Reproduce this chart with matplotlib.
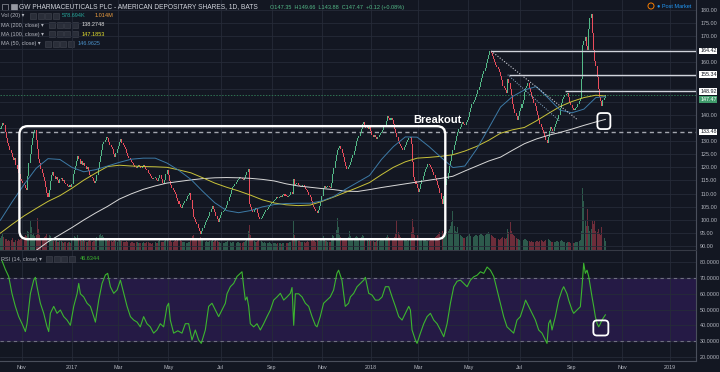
import numpy as np
import pandas as pd
import matplotlib
matplotlib.use('Agg')
import matplotlib.pyplot as plt
from matplotlib.patches import FancyBboxPatch, Rectangle, Ellipse
from matplotlib.transforms import blended_transform_factory

plt.rcParams['font.family'] = ['Liberation Sans', 'DejaVu Sans']

# ---- data ----
holidays = ['2016-11-24', '2016-12-26', '2017-01-02', '2017-01-16', '2017-02-20',
            '2017-04-14', '2017-05-29', '2017-07-04', '2017-09-04', '2017-11-23',
            '2017-12-25', '2018-01-01', '2018-01-15', '2018-02-19', '2018-03-30',
            '2018-05-28', '2018-07-04', '2018-09-03', '2018-11-22', '2018-12-05',
            '2018-12-25', '2019-01-01']

close = [
    134.5, 135.8, 137.0, 136.2, 133.5, 131.0, 129.4, 128.2, 126.5, 125.3,
    124.0, 122.8, 123.5, 121.0, 119.2, 118.0, 117.3, 115.6, 114.8, 113.9,
    113.2, 112.0, 111.2, 116.5, 121.8, 125.0, 128.6, 131.2, 133.0, 134.4,
    130.5, 126.8, 123.2, 121.6, 119.5, 118.0, 116.2, 114.8, 112.4, 110.2,
    108.8, 111.5, 114.6, 117.2, 118.4, 116.8, 115.5, 116.3, 115.0, 114.2,
    115.4, 116.0, 114.8, 115.2, 114.0, 113.6, 112.8, 112.4, 113.2, 112.6,
    113.8, 117.6, 119.0, 120.5, 122.6, 124.2, 123.0, 121.4, 122.3, 121.0,
    121.8, 120.6, 119.4, 120.2, 118.5, 117.2, 116.4, 115.8, 114.6, 114.0,
    114.8, 117.0, 119.6, 122.0, 124.3, 126.5, 128.8, 129.6, 130.4, 131.6,
    131.0, 129.8, 128.4, 127.6, 126.8, 125.2, 124.0, 125.6, 127.0, 128.3,
    129.6, 130.8, 129.4, 128.6, 127.8, 126.9, 125.5, 124.2, 123.6, 122.8,
    122.1, 121.5, 120.8, 120.0, 119.6, 120.4, 121.0, 120.6, 119.8, 120.4,
    121.0, 120.2, 119.5, 118.8, 118.0, 117.4, 116.8, 116.1, 115.4, 115.8,
    116.0, 115.2, 114.8, 115.9, 117.0, 115.6, 114.2, 113.5, 115.2, 117.4,
    119.0, 117.0, 114.6, 113.4, 112.0, 111.2, 110.4, 109.8, 108.4, 107.0,
    106.0, 105.0, 104.6, 105.5, 106.4, 107.2, 108.0, 109.1, 109.6, 110.2,
    107.5, 104.2, 101.0, 100.2, 99.0, 98.2, 97.0, 95.6, 94.6, 95.8,
    96.8, 98.0, 99.2, 100.0, 100.8, 101.6, 103.0, 104.2, 105.1, 104.0,
    103.0, 101.5, 100.2, 99.0, 100.5, 101.8, 102.9, 103.4, 103.8, 104.4,
    105.6, 107.2, 108.5, 110.0, 111.2, 112.4, 113.0, 113.8, 114.5, 115.1,
    115.6, 116.2, 115.8, 115.4, 115.0, 116.1, 117.0, 118.2, 119.5, 106.0,
    104.8, 103.6, 103.0, 103.8, 104.5, 104.0, 102.6, 101.2, 100.2, 100.8,
    101.4, 102.2, 103.0, 103.6, 104.2, 104.8, 105.4, 105.9, 106.5, 107.0,
    107.4, 108.0, 108.5, 108.2, 108.8, 109.1, 108.7, 109.4, 109.8, 109.2,
    108.9, 108.5, 109.0, 109.6, 110.4, 109.8, 115.5, 113.2, 113.8, 114.0,
    113.4, 112.8, 112.4, 113.0, 113.2, 112.6, 111.8, 111.2, 110.4, 109.4,
    108.6, 107.0, 105.6, 104.8, 104.0, 103.2, 102.5, 103.6, 105.2, 106.8,
    109.0, 112.0, 112.8, 112.2, 112.6, 112.9, 112.4, 112.0, 114.2, 117.4,
    119.8, 122.4, 124.6, 126.5, 127.4, 128.0, 127.0, 125.4, 124.0, 122.2,
    120.6, 119.2, 120.0, 121.0, 122.2, 123.6, 124.8, 126.4, 128.0, 130.0,
    131.2, 132.0, 133.2, 134.8, 136.4, 137.2, 136.0, 135.0, 135.4, 134.6,
    135.2, 133.8, 132.4, 131.5, 132.2, 131.6, 130.8, 131.5, 132.4, 133.2,
    133.6, 134.2, 135.4, 136.2, 137.6, 139.6, 139.0, 138.2, 138.8, 138.0,
    136.4, 134.6, 133.0, 131.6, 130.2, 129.0, 128.2, 127.4, 126.6, 127.8,
    128.6, 129.8, 130.6, 131.0, 131.6, 129.0, 122.0, 116.4, 114.8, 113.6,
    112.2, 110.4, 111.8, 113.6, 115.0, 116.8, 118.4, 119.4, 120.2, 121.4,
    120.8, 120.0, 119.2, 118.4, 117.2, 116.0, 114.6, 113.2, 112.0, 110.2,
    108.0, 106.2, 109.0, 111.4, 113.2, 115.6, 118.0, 120.4, 122.6, 124.8,
    126.6, 128.4, 130.0, 131.8, 133.4, 134.6, 135.4, 136.6, 137.2, 136.4,
    136.0, 137.2, 138.2, 139.2, 141.0, 142.6, 144.2, 145.0, 145.8, 146.8,
    148.0, 149.4, 150.8, 152.4, 154.0, 155.4, 156.8, 158.0, 159.6, 161.4,
    162.8, 164.2, 163.6, 162.4, 161.4, 160.2, 159.0, 158.2, 157.4, 156.4,
    155.0, 153.2, 151.0, 150.2, 149.4, 148.4, 153.8, 152.0, 150.0, 147.6,
    144.2, 142.2, 140.6, 139.4, 138.2, 139.6, 141.4, 142.8, 144.2, 145.6,
    148.6, 150.4, 151.2, 152.0, 150.4, 148.8, 147.2, 146.0, 144.6, 143.2,
    141.6, 139.8, 138.0, 136.6, 135.2, 134.2, 133.2, 132.0, 130.6, 129.2,
    131.6, 134.0, 135.4, 134.8, 134.0, 135.2, 136.4, 137.6, 138.4, 139.8,
    142.6, 144.4, 146.2, 147.0, 147.6, 148.0, 148.4, 146.8, 145.0, 143.8,
    142.6, 141.8, 142.0, 142.6, 143.0, 144.0, 145.2, 146.6, 153.8, 166.8,
    168.2, 169.8, 166.4, 164.8, 172.6, 176.8, 178.4, 171.2, 164.6, 160.4,
    158.6, 154.6, 149.8, 147.0, 145.4, 143.2, 145.8, 146.4, 147.47,
]

# volume, in units of 10K shares
volume = [
    72, 85, 96, 78, 66, 70, 58, 64, 55, 60, 74, 52, 49, 63, 58, 66, 61, 70, 75, 68,
    82, 95, 88, 120, 110, 180, 140, 95, 105, 88, 92, 200, 130, 90, 76, 68, 72, 80, 85, 98,
    130, 92, 84, 70, 62, 58, 55, 60, 52, 49, 57, 54, 48, 45, 52, 50, 44, 47, 51, 46,
    66, 90, 84, 78, 72, 95, 70, 62, 58, 54, 60, 56, 52, 48, 58, 62, 55, 50, 57, 53,
    60, 78, 85, 92, 100, 88, 95, 80, 72, 70, 64, 58, 62, 55, 50, 56, 62, 58, 52, 60,
    66, 58, 54, 50, 47, 52, 55, 49, 46, 44, 48, 52, 45, 42, 47, 50, 44, 41, 46, 43,
    48, 45, 42, 50, 47, 44, 46, 40, 43, 48, 52, 45, 42, 55, 60, 50, 47, 52, 58, 62,
    66, 58, 55, 60, 52, 50, 56, 62, 58, 66, 72, 64, 55, 50, 48, 52, 46, 44, 49, 47,
    70, 85, 90, 76, 68, 62, 70, 74, 80, 68, 60, 55, 52, 58, 50, 48, 54, 56, 60, 52,
    55, 60, 58, 50, 48, 46, 52, 44, 42, 47, 52, 58, 55, 50, 46, 48, 52, 45, 43, 48,
    50, 46, 44, 42, 47, 52, 58, 66, 120, 155, 95, 70, 62, 55, 50, 52, 58, 60, 66, 55,
    50, 46, 48, 44, 42, 45, 48, 43, 40, 44, 46, 42, 39, 43, 45, 41, 38, 42, 44, 40,
    43, 46, 42, 48, 52, 60, 180, 90, 72, 66, 58, 54, 50, 47, 52, 49, 46, 50, 53, 48,
    55, 60, 58, 62, 56, 52, 60, 58, 54, 62, 70, 85, 66, 58, 54, 50, 52, 48, 70, 95,
    88, 110, 125, 200, 140, 95, 80, 72, 68, 62, 66, 72, 78, 120, 85, 70, 66, 72, 80, 88,
    82, 75, 70, 78, 90, 85, 72, 66, 60, 58, 62, 56, 54, 58, 52, 50, 55, 60, 58, 62,
    60, 66, 72, 70, 80, 92, 78, 66, 60, 62, 70, 78, 96, 185, 110, 90, 82, 75, 72, 66,
    64, 60, 58, 62, 66, 110, 190, 140, 95, 82, 90, 85, 72, 68, 64, 60, 66, 62, 58, 55,
    58, 62, 66, 70, 75, 80, 88, 92, 96, 110, 130, 115, 90, 85, 96, 110, 120, 130, 150, 175,
    240, 150, 120, 110, 140, 105, 95, 88, 82, 76, 72, 80, 85, 90, 96, 88, 82, 78, 84, 90,
    95, 88, 92, 100, 96, 90, 86, 92, 98, 105, 110, 100, 92, 85, 80, 76, 72, 70, 66, 64,
    70, 76, 80, 72, 68, 75, 130, 110, 170, 120, 100, 90, 84, 76, 70, 66, 62, 58, 60, 64,
    70, 66, 60, 58, 55, 52, 56, 50, 48, 52, 58, 55, 50, 54, 60, 56, 52, 58, 62, 66,
    70, 60, 55, 52, 50, 48, 52, 56, 54, 50, 58, 62, 55, 50, 48, 46, 50, 52, 48, 45,
    48, 46, 44, 47, 50, 52, 55, 60, 120, 385, 300, 180, 150, 250, 150, 120, 130, 180, 160, 180,
    120, 110, 130, 100, 90, 140, 85, 75, 58,
]

# moving averages read every 10 bars
ma_idx = [0, 10, 20, 30, 40, 50, 60, 70, 80, 90, 100, 110, 120, 130, 140, 150, 160, 170,
          180, 190, 200, 210, 220, 230, 240, 250, 260, 270, 280, 290, 300, 310, 320, 330,
          340, 350, 360, 370, 380, 390, 400, 410, 420, 430, 440, 450, 460, 470, 480, 490,
          500, 508]
ma200 = [79.0, 82.0, 85.2, 88.3, 91.6, 94.3, 97.0, 99.9, 102.6, 105.1, 107.9, 109.9, 111.6,
         112.9, 114.0, 114.6, 115.2, 115.7, 116.0, 116.1, 116.0, 115.8, 115.4, 114.8, 113.7,
         112.9, 112.4, 111.9, 111.5, 110.9, 110.8, 111.5, 112.3, 113.0, 113.7, 114.4, 115.1,
         115.8, 116.6, 118.6, 120.5, 122.4, 123.9, 126.5, 129.0, 130.8, 132.2, 133.3, 134.6,
         136.0, 137.3, 138.27]
ma100 = [94.9, 98.3, 101.5, 104.3, 107.0, 109.2, 112.0, 115.1, 117.8, 120.3, 120.8, 120.5,
         120.3, 120.2, 120.0, 119.0, 117.9, 116.0, 114.0, 112.4, 111.0, 109.4, 107.6, 106.4,
         105.7, 105.4, 105.6, 107.0, 108.7, 110.5, 112.3, 114.2, 117.2, 120.0, 122.1, 123.5,
         123.8, 124.2, 124.8, 126.2, 128.0, 130.3, 133.0, 134.3, 135.2, 137.7, 140.5, 143.2,
         145.1, 146.6, 147.5, 147.19]
ma50 = [99.8, 106.9, 113.5, 119.6, 123.3, 123.0, 120.0, 118.3, 119.1, 120.5, 121.9, 123.1,
        123.5, 123.5, 121.6, 118.8, 115.4, 110.8, 106.5, 103.5, 102.7, 103.5, 104.9, 105.8,
        106.2, 106.3, 106.3, 107.2, 108.9, 111.7, 114.3, 116.9, 123.0, 127.9, 131.6, 131.5,
        127.9, 123.8, 119.9, 120.5, 127.0, 134.9, 143.0, 147.0, 149.5, 150.8, 146.4, 141.8,
        140.8, 142.2, 146.6, 146.96]

# RSI (14)
rsi_idx = [1.4, 4.2, 7.0, 9.8, 12.6, 15.4, 18.2, 21.0, 22.4, 25.2, 28.0, 29.4, 30.8, 33.6,
           36.4, 39.2, 40.6, 42.0, 44.8, 47.6, 50.4, 53.2, 56.0, 58.8, 61.6, 64.4, 65.8,
           67.2, 70.0, 72.8, 75.6, 78.4, 79.8, 82.6, 85.4, 88.2, 90.1, 92.4, 95.2, 98.0,
           100.8, 103.6, 106.4, 109.2, 112.0, 114.8, 117.5, 120.3, 123.1, 125.9, 128.7,
           131.5, 134.3, 137.1, 139.9, 141.3, 142.7, 145.5, 149.0, 152.5, 155.3, 158.1,
           160.9, 163.7, 166.5, 168.7, 172.1, 174.9, 177.7, 180.5, 183.3, 186.1, 188.9,
           190.3, 193.1, 195.9, 198.7, 201.5, 202.9, 204.3, 205.7, 207.1, 208.5, 209.9,
           212.7, 215.5, 218.3, 221.1, 223.9, 226.7, 229.5, 232.3, 235.1, 237.9, 240.7,
           243.5, 244.9, 246.3, 247.7, 250.5, 253.3, 256.1, 258.9, 261.7, 264.5, 265.9,
           268.6, 271.4, 274.2, 277.0, 279.8, 282.6, 284.0, 286.8, 289.6, 292.4, 293.9,
           296.7, 299.5, 302.3, 305.1, 306.5, 309.3, 312.1, 314.9, 317.7, 320.5, 323.3,
           326.1, 328.9, 331.7, 334.5, 337.3, 340.1, 342.9, 344.3, 345.7, 348.5, 349.9,
           352.7, 355.5, 358.3, 361.1, 363.9, 366.7, 369.5, 372.3, 375.1, 377.9, 380.7,
           383.5, 386.3, 389.1, 391.9, 394.7, 397.5, 400.3, 403.1, 405.9, 408.7, 411.5,
           414.3, 417.1, 419.9, 422.6, 425.4, 428.2, 431.0, 433.8, 436.6, 439.4, 441.0,
           443.6, 446.4, 449.2, 452.0, 454.8, 457.6, 459.0, 460.4, 461.8, 463.2, 466.0,
           468.8, 471.6, 473.0, 475.8, 477.2, 480.0, 481.4, 484.2, 487.0, 488.4, 489.8,
           491.2, 492.6, 494.0, 495.4, 496.8, 498.2, 499.6, 501.0, 502.4, 503.8, 505.2,
           508.0]
rsi_val = [81, 75.5, 71, 60, 52, 45.5, 41, 36, 41, 60, 68.7, 70.5, 64.5, 54,
           47.6, 39, 36, 47.6, 52, 47.6, 49.7, 45.5, 43.3, 40, 52, 60, 66.6,
           60, 58, 54, 52, 45.5, 42, 56, 66.6, 72, 73, 64.5, 60.3, 62.4,
           68.7, 60.3, 52, 45.5, 43.3, 42, 39, 45.5, 41, 39, 35,
           37, 41, 39, 52, 54, 43.3, 35, 36.5, 35, 41, 41,
           30.6, 37, 30.6, 28.5, 37, 52, 54, 49.7, 45.5, 49.7, 54,
           60, 64.5, 66.6, 71, 73, 74, 64.5, 56, 58, 52, 41,
           39, 41, 37, 41, 45.5, 49.7, 56, 58, 60.3, 56, 58,
           60.3, 64, 40, 60, 60, 58, 54, 52, 45.5, 40, 39,
           45.5, 54, 56, 58, 62.4, 73, 75, 68.7, 52, 54, 58,
           60.3, 64.5, 66.6, 68.7, 70.5, 60.3, 59.2, 56, 56, 58, 64.5,
           64.5, 58, 52, 45.5, 43.3, 47.6, 52, 49.7, 37, 30.6, 28.5,
           35, 41, 45.5, 47.6, 43.3, 41, 37, 32.7, 41, 54, 64.5,
           68, 68.7, 66.6, 64.5, 68.7, 70.8, 71.8, 74, 73, 77, 75,
           71, 62.4, 54, 45.5, 39, 37, 35, 43.3, 45.5, 52, 56,
           52, 47.6, 43.4, 37, 35, 30.6, 28.5, 41.2, 43.4, 37, 45.5,
           56, 62.4, 64.5, 60, 56, 49.7, 47.6, 49.7, 51.8, 64.5, 79.4,
           73, 75, 71, 64.5, 58, 52, 45.5, 41.2, 39, 41, 43.4,
           46.63]

tick_months = ['2016-11', '2017-01', '2017-03', '2017-05', '2017-07', '2017-09', '2017-11',
               '2018-01', '2018-03', '2018-05', '2018-07', '2018-09', '2018-11', '2019-01']
tick_text = ['Nov', '2017', 'Mar', 'May', 'Jul', 'Sep', 'Nov', '2018', 'Mar', 'May', 'Jul',
             'Sep', 'Nov', '2019']

level_lines = [164.42, 155.34, 148.92]
level_start = ['2018-05-29', '2018-06-19', '2018-08-24']
support = 133.48
last_price = 147.47
# price ticks whose label is covered by the level labels
hidden_ticks = [135, 145, 150, 155, 165]

# ---- derived ----
days = pd.bdate_range('2016-10-06', '2019-03-01', freq='C', holidays=holidays)
n = len(close)
x = np.arange(n)
c = np.array(close)
o = np.r_[c[0], c[:-1]]
up = c >= o
vol = np.array(volume)
tick_pos = [days.searchsorted(pd.Timestamp(m + '-01')) for m in tick_months]

# ---- style ----
bg = '#131722'
grid = '#262b38'
txt = '#b2b5be'
up_c = '#53b987'
dn_c = '#eb4d5c'

W, H = 720, 372
fig = plt.figure(figsize=(7.2, 3.72), dpi=100, facecolor=bg)


def fx(px):
    return px / W


def fy(py):
    return 1 - py / H


ax = fig.add_axes([0, fy(250), fx(696), 250 / H])
axr = fig.add_axes([0, fy(361), fx(696), 110 / H])
axv = ax.twinx()

xmin, xmax = -0.3, 584.1
pmin, pmax = 88.47, 183.81
rmin, rmax = 17.3, 87.2

for a in (ax, axr):
    a.set_facecolor(bg)
    a.set_xlim(xmin, xmax)
    a.set_xticks(tick_pos)
    a.grid(True, color=grid, lw=0.6)
    a.set_axisbelow(True)
    a.yaxis.tick_right()
    a.tick_params(length=0, colors=txt, labelsize=3.9, pad=3)
    for s in a.spines.values():
        s.set_visible(False)
    a.spines['right'].set_visible(True)
    a.spines['right'].set_color('#4a4f5c')
    a.spines['right'].set_linewidth(0.8)

ax.set_zorder(axv.get_zorder() + 1)
ax.patch.set_visible(False)
axv.set_facecolor(bg)
axv.set_ylim(0, 1540)
axv.set_yticks([])
for s in axv.spines.values():
    s.set_visible(False)
axv.bar(x[up], vol[up], width=0.8, color=up_c, alpha=0.42, linewidth=0)
axv.bar(x[~up], vol[~up], width=0.8, color=dn_c, alpha=0.42, linewidth=0)

ax.set_ylim(pmin, pmax)
ax.set_xticklabels([])
pt = np.arange(90, 181, 5)
ax.set_yticks(pt)
ax.set_yticklabels(['' if v in hidden_ticks else '%.2f' % v for v in pt])
ax.spines['bottom'].set_visible(True)
ax.spines['bottom'].set_color('#363a45')

# candles
h = np.maximum(np.abs(c - o), 0.4)
b = np.minimum(c, o)
ax.bar(x[up], h[up], bottom=b[up], width=0.85, color=up_c, linewidth=0, zorder=3)
ax.bar(x[~up], h[~up], bottom=b[~up], width=0.85, color=dn_c, linewidth=0, zorder=3)

# moving averages
ax.plot(ma_idx, ma200, color='#d9d9d9', lw=0.7, zorder=4)
ax.plot(ma_idx, ma100, color='#c9c33a', lw=0.7, zorder=4)
ax.plot(ma_idx, ma50, color='#3d7aa6', lw=0.7, zorder=4)

# drawn levels
ax.axhline(support, color='#a3a6af', lw=1.0, ls=(0, (3, 2.5)), zorder=2)
ax.axhline(last_price, color='#2f7352', lw=0.7, ls=(0, (1.5, 1.5)), zorder=2)
for lv, st in zip(level_lines, level_start):
    ax.hlines(lv, days.searchsorted(pd.Timestamp(st)), xmax, color='#d1d4dc', lw=1.0, zorder=5)
peak_i = days.searchsorted(pd.Timestamp('2018-05-29'))
ax.plot([peak_i, 485], [164.4, 138.0], color='#c8cad2', lw=0.8, ls=(0, (1, 1.5)), zorder=5)
ax.plot([426, 470], [155.3, 137.5], color='#8fb3d0', lw=0.7, ls=(0, (1, 1.5)), zorder=5)

# annotations
px_bar = 696 / (xmax - xmin)
px_price = 250 / (pmax - pmin)
px_rsi = 110 / (rmax - rmin)
box = FancyBboxPatch((16, 92.6), 357.6, 43.1, boxstyle='round,pad=0,rounding_size=7',
                     mutation_aspect=px_bar / px_price, fc='none', ec='white', lw=1.7, zorder=6)
ax.add_patch(box)
ax.text(367, 137.9, 'Breakout', color='white', fontsize=8, weight='bold',
        ha='center', va='center', zorder=7)
ax.add_patch(FancyBboxPatch((501.3, 134.6), 10.9, 6.1, boxstyle='round,pad=0,rounding_size=3',
                            mutation_aspect=px_bar / px_price, fc='none', ec='white',
                            lw=1.3, zorder=6))

# axis price labels
tr = blended_transform_factory(ax.transAxes, ax.transData)
for lv in [164.42, 155.34, 148.92, support]:
    ax.text(1.006, lv, '%.2f' % lv, transform=tr, fontsize=3.9, color='#131722',
            va='center', ha='left', clip_on=False,
            bbox=dict(boxstyle='square,pad=0.15', fc='white', ec='none'))
ax.text(1.006, last_price - 1.7, '%.2f' % last_price, transform=tr, fontsize=3.9,
        color='white', va='center', ha='left', clip_on=False,
        bbox=dict(boxstyle='square,pad=0.15', fc='#3f9b6b', ec='none'))

# RSI panel
axr.set_ylim(rmin, rmax)
rt = np.arange(20, 81, 10)
axr.set_yticks(rt)
axr.set_yticklabels(['%.4f' % v for v in rt])
axr.set_xticklabels(tick_text)
axr.spines['bottom'].set_visible(True)
axr.spines['bottom'].set_color('#4a4f5c')
axr.axhspan(30, 70, color='#251a45', zorder=0.5)
axr.axhline(70, color='#6f6f80', lw=0.8, ls=(0, (3, 3)), zorder=1)
axr.axhline(30, color='#6f6f80', lw=0.8, ls=(0, (3, 3)), zorder=1)
axr.plot(rsi_idx, rsi_val, color='#3cb52f', lw=0.8, zorder=3)
axr.add_patch(FancyBboxPatch((497.9, 33.5), 12.6, 9.6, boxstyle='round,pad=0,rounding_size=3',
                             mutation_aspect=px_bar / px_rsi, fc='none', ec='white',
                             lw=1.3, zorder=6))

# header / legend
fs = 4.0


def icons(x0, y0):
    for k in range(4):
        fig.add_artist(Rectangle((fx(x0 + k * 7.5), fy(y0 + 3)), fx(6), 6 / H,
                                 fc='#2a2e39', ec='#434651', lw=0.4))


fig.add_artist(Rectangle((fx(2), fy(10)), fx(6), 6 / H, fc='none', ec='#9598a1', lw=0.5))
fig.add_artist(Rectangle((fx(10.5), fy(10)), fx(6), 6 / H, fc='#9598a1', ec='#9598a1', lw=0.5))
fig.text(fx(19), fy(7), 'GW PHARMACEUTICALS PLC - AMERICAN DEPOSITARY SHARES, 1D, BATS',
         color='#d1d4dc', fontsize=4.8, va='center')
fig.text(fx(270), fy(7), 'O147.35  H149.66  L143.88  C147.47  +0.12 (+0.08%)',
         color='#53b987', fontsize=4.0, va='center')

fig.text(fx(1), fy(15.7), 'Vol (20) \u25be', color=txt, fontsize=fs, va='center')
icons(30, 15.7)
fig.text(fx(62), fy(15.7), '578.694K', color='#26a69a', fontsize=fs, va='center')
fig.text(fx(95), fy(15.7), '1.014M', color='#f0a040', fontsize=fs, va='center')
rows = [('MA (200, close) \u25be', '138.2748', '#e0e0e0', 25, 49, 82),
        ('MA (100, close) \u25be', '147.1853', '#e6e22e', 34.3, 49, 82),
        ('MA (50, close) \u25be', '146.9625', '#4a90c8', 43.7, 45, 78)]
for lab, val, col, yy, ix, vx in rows:
    fig.text(fx(1), fy(yy), lab, color=txt, fontsize=fs, va='center')
    icons(ix, yy)
    fig.text(fx(vx), fy(yy), val, color=col, fontsize=fs, va='center')

fig.text(fx(1), fy(259), 'RSI (14, close) \u25be', color=txt, fontsize=fs, va='center')
icons(46, 259)
fig.text(fx(80), fy(259), '46.6344', color='#3cb52f', fontsize=fs, va='center')

fig.add_artist(Ellipse((fx(651), fy(6)), fx(6), 6 / H, fc='none', ec='#f57c00', lw=0.7))
fig.text(fx(657), fy(6), '\u25cf Post Market', color='#2196f3', fontsize=fs, va='center')

fig.savefig('out.png', dpi=100, facecolor=bg)
